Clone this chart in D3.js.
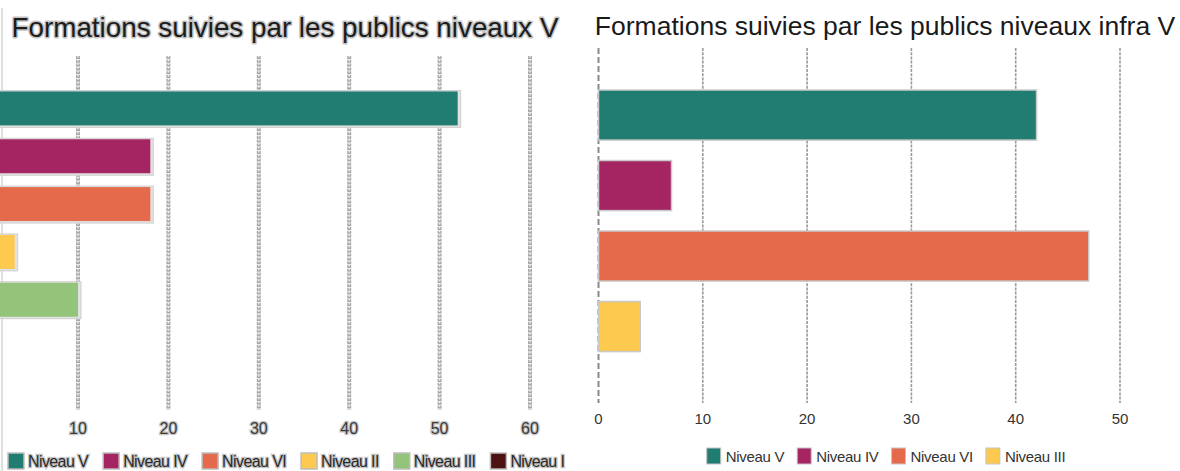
<!DOCTYPE html>
<html><head><meta charset="utf-8">
<script src="https://cdn.jsdelivr.net/npm/d3@7"></script>
<style>
html,body{margin:0;padding:0;background:#fff;}
svg{display:block;font-family:"Liberation Sans",Arial,sans-serif;}
</style></head>
<body>
<svg id="chart" width="1180" height="471"></svg>
<script>
// ---- Data: left chart (niveaux V) ----
const leftTitle = "Formations suivies par les publics niveaux V";
const leftCategories = ["Niveau V", "Niveau IV", "Niveau VI", "Niveau II", "Niveau III", "Niveau I"];
const leftValues = [52, 18, 18, 3, 10, 0];
const leftColors = ["#217d72", "#a52462", "#e56a4b", "#fdc94f", "#93c47a", "#4c1211"];
const leftTicks = [10, 20, 30, 40, 50, 60];

// ---- Data: right chart (niveaux infra V) ----
const rightTitle = "Formations suivies par les publics niveaux infra V";
const rightCategories = ["Niveau V", "Niveau IV", "Niveau VI", "Niveau III"];
const rightValues = [42, 7, 47, 4];
const rightColors = ["#217d72", "#a52462", "#e56a4b", "#fdc94f"];
const rightTicks = [0, 10, 20, 30, 40, 50];

const svg = d3.select("#chart");

// ================= LEFT CHART =================
const L = svg.append("g");
const lx = d3.scaleLinear().domain([0, 65]).range([-12.4, -12.4 + 9.04 * 65]);
const ly = d3.scaleBand().domain(leftCategories).range([84.5, 371.5]).paddingInner(0.29).paddingOuter(0.145);
const lColor = d3.scaleOrdinal().domain(leftCategories).range(leftColors);

L.append("defs").append("clipPath").attr("id", "lclip")
  .append("rect").attr("x", 0).attr("y", 0).attr("width", 580).attr("height", 471);
const Lc = L.append("g").attr("clip-path", "url(#lclip)");

// frame line on the left edge
Lc.append("line").attr("x1", 2).attr("x2", 2).attr("y1", 8).attr("y2", 471)
  .attr("stroke", "#d4d4d4").attr("stroke-width", 1.5);

// title
L.append("text").attr("x", 285).attr("y", 37).attr("text-anchor", "middle")
  .attr("font-size", 27.8).attr("fill", "#1c1c1c")
  .attr("stroke", "#c4c4c4").attr("stroke-width", 3).attr("paint-order", "stroke")
  .attr("stroke-linejoin", "round")
  .text(leftTitle);

// chain-like gridlines
const lg = Lc.append("g");
lg.selectAll("line.o").data(leftTicks).join("line").attr("class", "o")
  .attr("x1", d => lx(d)).attr("x2", d => lx(d)).attr("y1", 56).attr("y2", 410)
  .attr("stroke", "#a8a8a8").attr("stroke-width", 4).attr("stroke-dasharray", "3,0.8");
lg.selectAll("line.i").data(leftTicks).join("line").attr("class", "i")
  .attr("x1", d => lx(d)).attr("x2", d => lx(d)).attr("y1", 56).attr("y2", 410)
  .attr("stroke", "#f4f4f4").attr("stroke-width", 1.3).attr("stroke-dasharray", "1.4,2.4");

// bars with soft outline/shadow
Lc.selectAll("rect.sh").data(leftCategories.filter((c, i) => leftValues[i] > 0)).join("rect").attr("class", "sh")
  .attr("x", lx(0)).attr("y", d => ly(d) - 1)
  .attr("width", d => lx(leftValues[leftCategories.indexOf(d)]) - lx(0) + 3)
  .attr("height", ly.bandwidth() + 3)
  .attr("fill", "#e2e2e2").attr("stroke", "#cfcfcf").attr("stroke-width", 1);
Lc.selectAll("rect.bar").data(leftCategories.filter((c, i) => leftValues[i] > 0)).join("rect").attr("class", "bar")
  .attr("x", lx(0)).attr("y", d => ly(d))
  .attr("width", d => lx(leftValues[leftCategories.indexOf(d)]) - lx(0))
  .attr("height", ly.bandwidth())
  .attr("fill", d => lColor(d));

// tick labels
L.selectAll("text.tick").data(leftTicks).join("text").attr("class", "tick")
  .attr("x", d => lx(d)).attr("y", 434).attr("text-anchor", "middle")
  .attr("font-size", 16).attr("fill", "#3a3a3a")
  .attr("stroke", "#c8c8c8").attr("stroke-width", 2.6).attr("paint-order", "stroke")
  .text(d => d);

// legend
const lLeg = L.append("g");
let lxPos = 8;
leftCategories.forEach((c, i) => {
  const g = lLeg.append("g").attr("transform", `translate(${lxPos},0)`);
  g.append("rect").attr("x", 0).attr("y", 453).attr("width", 16).attr("height", 16)
    .attr("fill", lColor(c)).attr("stroke", "#bdbdbd").attr("stroke-width", 1.5);
  const t = g.append("text").attr("x", 20).attr("y", 467).attr("font-size", 16)
    .attr("fill", "#2a2a2a").attr("stroke", "#c6c6c6").attr("stroke-width", 2.6)
    .attr("paint-order", "stroke").attr("letter-spacing", -0.6).text(c);
  lxPos += 20 + t.node().getComputedTextLength() + 15;
});

// ================= RIGHT CHART =================
const R = svg.append("g");
const rx = d3.scaleLinear().domain([0, 55]).range([598.5, 598.5 + 10.43 * 55]);
const ry = d3.scaleBand().domain(rightCategories).range([79.8, 361.8]).paddingInner(0.29).paddingOuter(0.145);
const rColor = d3.scaleOrdinal().domain(rightCategories).range(rightColors);

R.append("text").attr("x", 885).attr("y", 35).attr("text-anchor", "middle")
  .attr("font-size", 26.5).attr("fill", "#1a1a1a").text(rightTitle);

// gridlines
R.selectAll("line.grid").data(rightTicks).join("line").attr("class", "grid")
  .attr("x1", d => rx(d)).attr("x2", d => rx(d)).attr("y1", 48).attr("y2", 403)
  .attr("stroke", d => d === 0 ? "#8a8a8a" : "#9a9a9a")
  .attr("stroke-width", d => d === 0 ? 2 : 1.6)
  .attr("stroke-dasharray", d => d === 0 ? "6,3" : "3,1.2");

// bars
R.selectAll("rect.bar").data(rightCategories).join("rect").attr("class", "bar")
  .attr("x", rx(0)).attr("y", d => ry(d))
  .attr("width", d => rx(rightValues[rightCategories.indexOf(d)]) - rx(0))
  .attr("height", ry.bandwidth())
  .attr("fill", d => rColor(d)).attr("stroke", "#c9c9c9").attr("stroke-width", 1.5);

// tick labels
R.selectAll("text.tick").data(rightTicks).join("text").attr("class", "tick")
  .attr("x", d => rx(d)).attr("y", 424).attr("text-anchor", "middle")
  .attr("font-size", 15).attr("fill", "#333").text(d => d);

// legend (centered)
const rLeg = R.append("g");
let rxPos = 0;
rightCategories.forEach((c, i) => {
  const g = rLeg.append("g").attr("transform", `translate(${rxPos},0)`);
  g.append("rect").attr("x", 0).attr("y", 448).attr("width", 14).attr("height", 16)
    .attr("fill", rColor(c)).attr("stroke", "#c4c4c4").attr("stroke-width", 1);
  const t = g.append("text").attr("x", 19).attr("y", 462).attr("font-size", 15)
    .attr("fill", "#333").attr("letter-spacing", -0.3).text(c);
  rxPos += 19 + t.node().getComputedTextLength() + (i < rightCategories.length - 1 ? 13 : 0);
});
rLeg.attr("transform", `translate(${886 - rxPos / 2},0)`);
</script>
</body></html>
